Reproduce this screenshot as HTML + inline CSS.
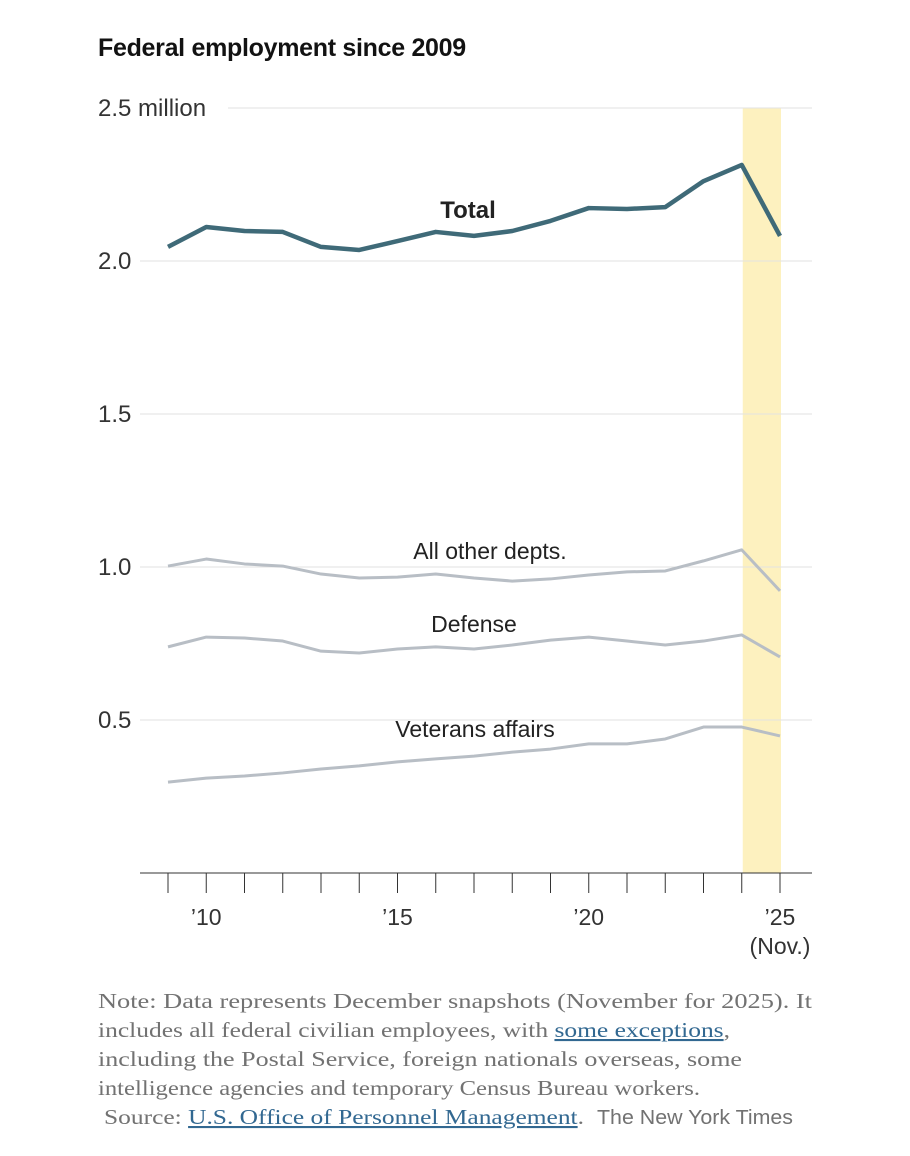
<!DOCTYPE html>
<html><head><meta charset="utf-8"><style>
body{margin:0;background:#fff;width:910px;height:1156px;overflow:hidden;font-family:"Liberation Sans",sans-serif;}
.title{position:absolute;left:98px;top:34px;font-size:25px;font-weight:bold;color:#121212;letter-spacing:-0.3px;}
</style></head><body>
<div class="title">Federal employment since 2009</div>
<svg id="chart" width="910" height="980" style="position:absolute;left:0;top:0"></svg>
<svg width="910" height="170" style="position:absolute;left:0;top:980px" font-family="Liberation Serif, serif" font-size="21" fill="#727272">
<text x="98" y="28" textLength="714" lengthAdjust="spacingAndGlyphs">Note: Data represents December snapshots (November for 2025). It</text>
<text x="98" y="57" textLength="632" lengthAdjust="spacingAndGlyphs">includes all federal civilian employees, with <tspan fill="#326891" text-decoration="underline">some exceptions</tspan>,</text>
<text x="98" y="86" textLength="644" lengthAdjust="spacingAndGlyphs">including the Postal Service, foreign nationals overseas, some</text>
<text x="98" y="115" textLength="602" lengthAdjust="spacingAndGlyphs">intelligence agencies and temporary Census Bureau workers.</text>
<text x="104" y="144" textLength="480" lengthAdjust="spacingAndGlyphs">Source: <tspan fill="#326891" text-decoration="underline">U.S. Office of Personnel Management</tspan>.</text>
<text x="597" y="144" textLength="196" lengthAdjust="spacingAndGlyphs" font-family="Liberation Sans, sans-serif" font-size="20">The New York Times</text>
</svg>
<script>
const years=[2009,2010,2011,2012,2013,2014,2015,2016,2017,2018,2019,2020,2021,2022,2023,2024,2025];
const total=[2.046,2.111,2.098,2.095,2.046,2.036,2.065,2.095,2.082,2.098,2.131,2.173,2.170,2.176,2.261,2.314,2.082];
const other=[1.003,1.026,1.010,1.003,0.977,0.964,0.967,0.977,0.964,0.954,0.961,0.974,0.984,0.987,1.020,1.056,0.922];
const defense=[0.739,0.771,0.768,0.758,0.725,0.719,0.732,0.739,0.732,0.745,0.761,0.771,0.758,0.745,0.758,0.778,0.706];
const va=[0.297,0.310,0.317,0.327,0.340,0.350,0.363,0.373,0.382,0.395,0.405,0.422,0.422,0.438,0.477,0.477,0.448];
const yTicks=[0.5,1.0,1.5,2.0,2.5];
const yTickLabels=["0.5","1.0","1.5","2.0","2.5 million"];
const xLabelYears=[2010,2015,2020,2025];
const xLabels=["’10","’15","’20","’25"];
const NS="http://www.w3.org/2000/svg";
const svg=document.getElementById('chart');
const x=v=>168+(v-2009)*38.25;
const y=v=>873-v*306;
function mk(t,a){const e=document.createElementNS(NS,t);for(const k in a)e.setAttribute(k,a[k]);svg.appendChild(e);return e;}
let band=mk('rect',{x:x(2024)+1,y:108,width:x(2025)-x(2024),height:765,fill:'#fdf1bf'});


yTicks.forEach((t,i)=>{
 const g=mk('line',{x1:i==4?228:140,x2:812,y1:y(t),y2:y(t),stroke:'#e2e2e2','stroke-width':1});
 
 
 const tx=mk('text',{x:98,y:y(t)+8,'font-size':24,fill:'#333'});tx.textContent=yTickLabels[i];
 
 
});
const ax=mk('line',{x1:140,x2:812,y1:873,y2:873,stroke:'#333','stroke-width':1});


years.forEach(yr=>{const t=mk('line',{x1:x(yr),x2:x(yr),y1:873,y2:893,stroke:'#333','stroke-width':1});
 
 });
xLabelYears.forEach((yr,i)=>{const t=mk('text',{x:x(yr),y:925,'font-size':23,fill:'#333','text-anchor':'middle'});t.textContent=xLabels[i];
 
 });
const nov=mk('text',{x:x(2025),y:954,'font-size':23,fill:'#333','text-anchor':'middle'});nov.textContent='(Nov.)';


function line(data,color,w,name){const p=mk('polyline',{points:data.map((v,i)=>x(years[i])+','+y(v)).join(' '),fill:'none',stroke:color,'stroke-width':w,'stroke-linejoin':'round'});
 
 }
line(va,'#b8bec5',3,'line-veterans-affairs');
line(defense,'#b8bec5',3,'line-defense');
line(other,'#b8bec5',3,'line-all-other');
line(total,'#3f6a78',4.5,'line-total');
function lab(txt,cx,cy,bold,name){const t=mk('text',{x:cx,y:cy,'font-size':bold?24:23,fill:'#222','text-anchor':'middle','font-weight':bold?'bold':'normal'});t.textContent=txt;
 
 }
lab('Total',468,218,true,'label-total');
lab('All other depts.',490,559,false,'label-all-other');
lab('Defense',474,632,false,'label-defense');
lab('Veterans affairs',475,737,false,'label-veterans-affairs');
</script>
</body></html>
